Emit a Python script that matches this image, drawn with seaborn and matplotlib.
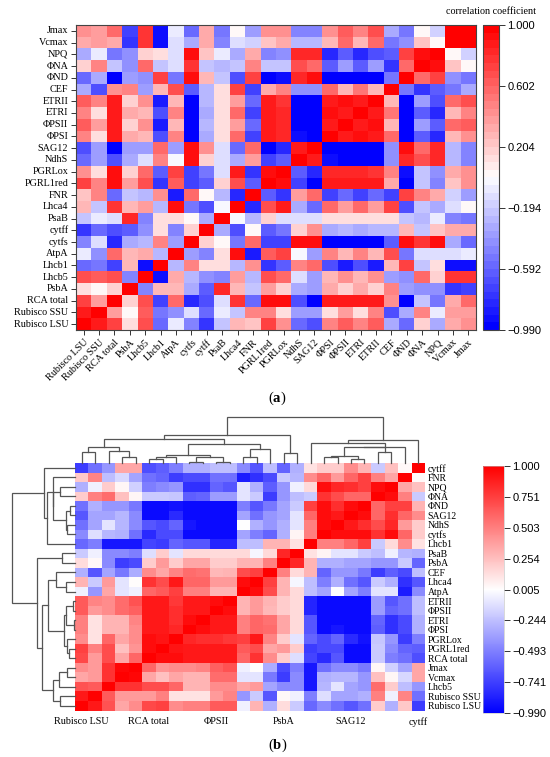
import numpy as np
import pandas as pd
import matplotlib
matplotlib.use("Agg")
import matplotlib.pyplot as plt
import seaborn as sns

# variable order of panel (a), left to right on the x axis
names = ["Rubisco LSU", "Rubisco SSU", "RCA total", "PsbA", "Lhcb5", "Lhcb1", "AtpA",
         "cytfs", "cytff", "PsaB", "Lhca4", "FNR", "PGRL1red", "PGRLox", "NdhS", "SAG12",
         "ΦPSI", "ΦPSII", "ETRI", "ETRII", "CEF", "ΦND", "ΦNA", "NPQ", "Vcmax", "Jmax"]

# lower triangle of the correlation matrix, one list per variable
r_lsu = [1.0]
r_ssu = [0.90, 1.0]
r_rca = [0.72, 0.40, 1.0]
r_psba = [0.14, 0.03, 0.20, 1.0]
r_lhcb5 = [0.68, 0.65, 0.70, -0.45, 1.0]
r_lhcb1 = [-0.58, -0.50, -0.72, 0.30, -0.90, 1.0]
r_atpa = [-0.05, -0.40, 0.60, 0.30, 0.35, -0.25, 1.0]
r_cytfs = [-0.45, -0.12, -0.82, -0.30, -0.28, 0.50, -0.35, 1.0]
r_cytff = [-0.75, -0.55, -0.68, -0.60, -0.40, 0.12, -0.45, 0.20, 1.0]
r_psab = [-0.20, -0.05, -0.12, 0.85, -0.45, 0.12, 0.15, 0.05, -0.30, 1.0]
r_lhca4 = [0.30, -0.20, 0.80, 0.30, 0.40, -0.25, 0.95, -0.50, -0.65, -0.03, 1.0]
r_fnr = [0.22, 0.48, -0.55, -0.20, -0.25, 0.45, -0.88, 0.60, 0.03, -0.28, -0.80, 1.0]
r_pgrl1red = [0.75, 0.50, 0.95, 0.40, 0.70, -0.75, 0.65, -0.70, -0.62, 0.20, 0.70, -0.60, 1.0]
r_pgrlox = [0.45, 0.12, 0.95, 0.20, 0.60, -0.60, 0.75, -0.70, -0.50, -0.10, 0.90, -0.75, 0.92,
            1.0]
r_ndhs = [-0.55, -0.35, -0.65, -0.30, -0.10, 0.50, 0.00, 0.95, 0.20, -0.10, -0.30, 0.40, -0.70,
          -0.60, 1.0]
r_sag12 = [-0.65, -0.35, -0.95, -0.35, -0.35, 0.60, -0.35, 0.95, 0.45, -0.10, -0.55, 0.60, -0.95,
           -0.82, 0.90, 1.0]
r_phipsi = [0.50, 0.12, 0.90, 0.35, 0.30, -0.65, 0.50, -0.95, -0.30, 0.15, 0.60, -0.70, 0.90,
            0.85, -0.90, -0.95, 1.0]
r_phipsii = [0.65, 0.40, 0.90, 0.20, 0.45, -0.85, 0.30, -0.95, -0.25, 0.15, 0.40, -0.55, 0.90,
             0.82, -0.95, -0.95, 0.90, 1.0]
r_etri = [0.50, 0.12, 0.90, 0.35, 0.30, -0.65, 0.50, -0.95, -0.30, 0.15, 0.60, -0.70, 0.90,
          0.82, -0.95, -0.95, 0.95, 0.90, 1.0]
r_etrii = [0.65, 0.48, 0.90, 0.20, 0.45, -0.85, 0.30, -0.95, -0.25, 0.15, 0.40, -0.55, 0.90,
           0.78, -0.95, -0.95, 0.90, 0.95, 0.90, 1.0]
r_cef = [-0.30, -0.65, 0.45, 0.50, -0.35, 0.30, 0.70, -0.60, -0.25, 0.15, 0.75, -0.70, 0.35,
         0.48, -0.40, -0.40, 0.58, 0.28, 0.55, 0.30, 1.0]
r_phind = [-0.55, -0.30, -0.95, -0.35, -0.40, 0.75, -0.50, 0.95, 0.30, -0.20, -0.65, 0.75, -0.95,
           -0.92, 0.82, 0.95, -0.95, -0.95, -0.95, -0.95, -0.52, 1.0]
r_phina = [0.20, 0.50, -0.20, -0.40, 0.58, -0.20, -0.10, 0.80, -0.20, -0.25, -0.20, 0.50, -0.20,
           -0.22, 0.70, 0.60, -0.62, -0.38, -0.60, -0.38, -0.75, 0.60, 1.0]
r_npq = [-0.30, -0.05, -0.50, -0.40, 0.20, 0.15, -0.10, 0.95, 0.25, -0.05, -0.30, 0.35, -0.45,
         -0.40, 0.85, 0.82, -0.80, -0.60, -0.80, -0.65, -0.62, 0.75, 0.95, 1.0]
r_vcmax = [0.35, 0.40, 0.35, -0.75, 0.80, -0.90, -0.10, -0.30, 0.35, -0.45, -0.10, -0.15, 0.25,
           0.35, -0.28, -0.28, 0.30, 0.58, 0.30, 0.58, -0.52, -0.40, 0.25, 0.04, 1.0]
r_jmax = [0.45, 0.40, 0.60, -0.70, 0.80, -0.90, -0.05, -0.55, 0.35, -0.50, 0.02, -0.35, 0.42,
          0.45, -0.45, -0.45, 0.45, 0.62, 0.48, 0.68, -0.32, -0.52, 0.04, -0.18, 0.97, 1.0]

tri_rows = [r_lsu, r_ssu, r_rca, r_psba, r_lhcb5, r_lhcb1, r_atpa, r_cytfs, r_cytff, r_psab,
            r_lhca4, r_fnr, r_pgrl1red, r_pgrlox, r_ndhs, r_sag12, r_phipsi, r_phipsii, r_etri,
            r_etrii, r_cef, r_phind, r_phina, r_npq, r_vcmax, r_jmax]

# cluster tree of panel (b)
tree_left = (
    (
        (("Rubisco LSU", "Rubisco SSU"), ("Lhcb5", ("Vcmax", "Jmax"))),
        (
            ((("RCA total", "PGRL1red"), "PGRLox"), (("ΦPSI", "ETRI"), ("ΦPSII", "ETRII"))),
            (("AtpA", "Lhca4"), "CEF"),
        ),
    ),
    ("PsbA", "PsaB"),
)
tree_right = (("Lhcb1", ((((("cytfs", "NdhS"), ("SAG12", "ΦND")), ("ΦNA", "NPQ")), "FNR"))),
              "cytff")
tree_b = (tree_left, tree_right)

ticks_a = ["1.000", "0.602", "0.204", "-0.194", "-0.592", "-0.990"]
ticks_b = ["1.000", "0.751", "0.503", "0.254", "0.005", "-0.244", "-0.493", "-0.741", "-0.990"]
vmin, vmax = -0.99, 1.0

n = len(names)
corr = np.zeros((n, n))
for i, row in enumerate(tri_rows):
    corr[i, :i + 1] = row
    corr[:i + 1, i] = row

plt.rcParams["font.family"] = ["Liberation Serif", "DejaVu Serif"]
plt.rcParams["mathtext.fontset"] = "custom"
plt.rcParams["mathtext.rm"] = "Liberation Serif"
plt.rcParams["mathtext.bf"] = "Liberation Serif:bold"

W, H = 550, 757


def box(x0, y0, x1, y1):
    return [x0 / W, 1 - y1 / H, (x1 - x0) / W, (y1 - y0) / H]


def style_cbar(cbar, labels, frame):
    pos = np.linspace(vmax, vmin, len(labels))
    cbar.set_ticks(pos)
    cbar.set_ticklabels([s.replace("-", "\u2212") for s in labels])
    cbar.ax.tick_params(length=4, width=0.7, labelsize=8, pad=2, color="#333333")
    for t in cbar.ax.get_yticklabels():
        t.set_family("Liberation Sans")
    cbar.outline.set_linewidth(0.8 if frame else 0.4)
    cbar.outline.set_edgecolor("#444444" if frame else "#bbbbbb")


fig = plt.figure(figsize=(W / 100, H / 100), dpi=100)

# ---------- (a) correlation matrix ----------
ax_a = fig.add_axes(box(76, 25, 476, 330))
cax_a = fig.add_axes(box(483, 25, 499, 330))
df_a = pd.DataFrame(corr, index=names, columns=names).iloc[::-1]
sns.heatmap(df_a, ax=ax_a, cbar_ax=cax_a, cmap=plt.get_cmap("bwr").resampled(40),
            vmin=vmin, vmax=vmax, xticklabels=True, yticklabels=True)
ax_a.set_xlabel("")
ax_a.set_ylabel("")
ax_a.tick_params(axis="both", length=3.5, width=0.7, color="#333333", labelsize=7.3, pad=2)
plt.setp(ax_a.get_xticklabels(), rotation=45, ha="right", rotation_mode="anchor")
plt.setp(ax_a.get_yticklabels(), rotation=0)
for s in ax_a.spines.values():
    s.set_visible(True)
    s.set_linewidth(0.8)
    s.set_color("#444444")
style_cbar(ax_a.collections[0].colorbar, ticks_a, True)
fig.text(491 / W, 1 - 11 / H, "correlation coefficient", ha="center", va="center", fontsize=7.3)
fig.text(277 / W, 1 - 398 / H, r"($\mathbf{a}$)", ha="center", va="center", fontsize=10.5)

# ---------- (b) clustered heatmap ----------
def leaves(node):
    return [node] if isinstance(node, str) else leaves(node[0]) + leaves(node[1])


order_b = leaves(tree_b)
idx = {nm: i for i, nm in enumerate(names)}
dist = np.sqrt(((corr[:, None, :] - corr[None, :, :]) ** 2).sum(-1))

ax_b = fig.add_axes(box(75, 463, 425, 710.5))
cax_b = fig.add_axes(box(483, 466, 504, 713))
dcol = fig.add_axes(box(75, 417, 425, 463))
drow = fig.add_axes(box(12, 463, 75, 710.5))

df_b = pd.DataFrame(corr, index=names, columns=names).loc[order_b[::-1], order_b]
sns.heatmap(df_b, ax=ax_b, cbar_ax=cax_b, cmap="bwr", vmin=vmin, vmax=vmax,
            xticklabels=5, yticklabels=True)
ax_b.set_xlabel("")
ax_b.set_ylabel("")
ax_b.yaxis.tick_right()
ax_b.tick_params(axis="y", length=0, labelsize=7, pad=2)
ax_b.tick_params(axis="x", length=0, labelsize=7.3, pad=5)
plt.setp(ax_b.get_yticklabels(), rotation=0)
plt.setp(ax_b.get_xticklabels(), rotation=0)
style_cbar(ax_b.collections[0].colorbar, ticks_b, False)

col_pos = {nm: i + 0.5 for i, nm in enumerate(order_b)}
row_pos = {nm: i + 0.5 for i, nm in enumerate(order_b[::-1])}
line_kw = dict(color="#555555", lw=0.9, solid_joinstyle="miter", clip_on=False)


def draw_tree(node, pos, ax, vertical):
    if isinstance(node, str):
        return pos[node], 0.0, [idx[node]]
    p1, h1, m1 = draw_tree(node[0], pos, ax, vertical)
    p2, h2, m2 = draw_tree(node[1], pos, ax, vertical)
    h = max(dist[np.ix_(m1, m2)].mean(), h1, h2)
    if vertical:
        ax.plot([p1, p1, p2, p2], [h1, h, h, h2], **line_kw)
    else:
        ax.plot([h1, h, h, h2], [p1, p1, p2, p2], **line_kw)
    return (p1 + p2) / 2, h, m1 + m2


_, root_h, _ = draw_tree(tree_b, col_pos, dcol, True)
dcol.set_xlim(0, n)
dcol.set_ylim(0, root_h)
dcol.axis("off")
draw_tree(tree_b, row_pos, drow, False)
drow.set_ylim(n, 0)
drow.set_xlim(root_h, 0)
drow.axis("off")

fig.text(278 / W, 1 - 745 / H, r"($\mathbf{b}$)", ha="center", va="center", fontsize=10.5)

fig.savefig("out.png", dpi=100)
